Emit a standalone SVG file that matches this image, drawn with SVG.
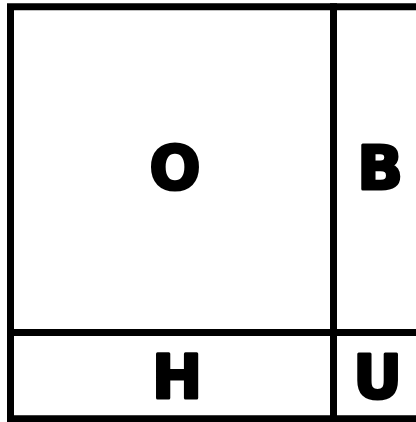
<svg xmlns="http://www.w3.org/2000/svg" width="416" height="422" viewBox="0 0 416 422">
<style>
.ln{stroke:#000;stroke-width:7;fill:none;stroke-linecap:square}
.lb{font-family:"DejaVu Sans","Liberation Sans",sans-serif;font-weight:bold;font-size:60px;fill:#000;stroke:#000;stroke-width:3;stroke-linejoin:round;text-anchor:middle}
</style>
<rect width="416" height="422" fill="#fff"/>
<g id="connectors">
<path class="ln" d="M430 6.8H10.5V418.8H430"/>
<path class="ln" d="M333.5 6.8V418.8"/>
<path class="ln" d="M10.5 332.5H430"/>
</g>
<g id="O"><text class="lb" x="175" y="188.5">O</text></g>
<g id="B"><text class="lb" x="380" y="188.5">B</text></g>
<g id="H"><text class="lb" x="177" y="398">H</text></g>
<g id="U"><text class="lb" x="377.5" y="398">U</text></g>
</svg>
